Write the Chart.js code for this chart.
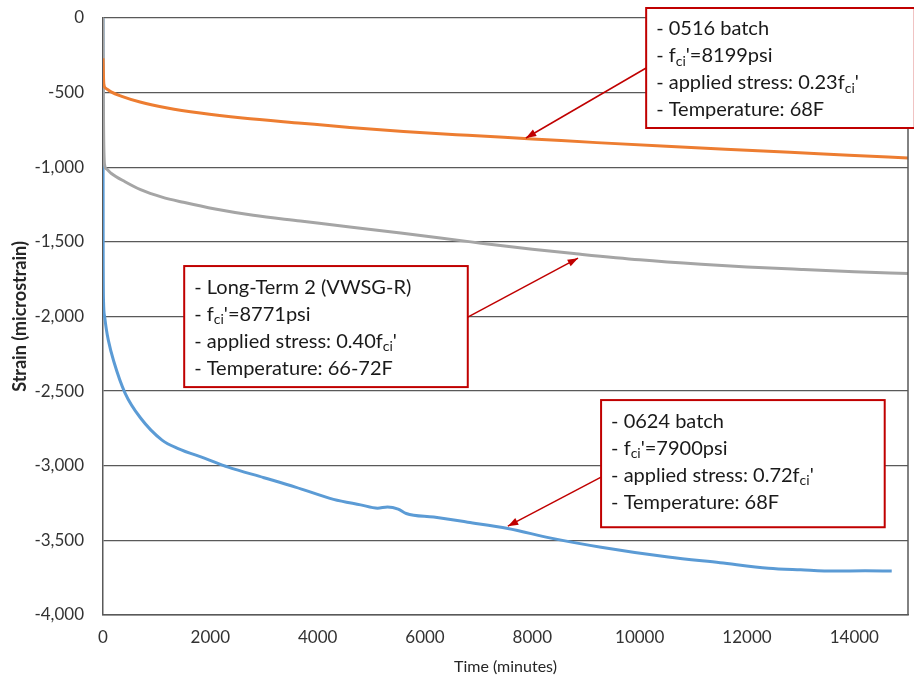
<!DOCTYPE html>
<html>
<head>
<meta charset="utf-8">
<script src="https://cdn.jsdelivr.net/npm/chart.js@4.4.1/dist/chart.umd.min.js"></script>
<style>
  html, body { margin: 0; padding: 0; background: #fff; }
  canvas { display: block; }
</style>
</head>
<body>
<canvas id="myChart" width="914" height="681"></canvas>
<script>
// time (minutes) and strain (microstrain)
const orangeTime = [0, 15, 50, 150, 350, 690, 1200, 1811, 2600, 3700, 4600, 5600, 6800, 8000, 9200, 10500, 11600, 12800, 13900, 15000];
const orangeStrain = [-270, -440, -470, -495, -525, -563, -603, -637, -670, -705, -733, -760, -786, -810, -835, -860, -880, -900, -920, -938];

const grayTime = [0, 10, 30, 60, 150, 411, 700, 1100, 1500, 2091, 2800, 3679, 4600, 5546, 6854, 8000, 8814, 10000, 11148, 12000, 13015, 14000, 15000];
const grayStrain = [0, -700, -985, -1010, -1040, -1097, -1150, -1200, -1235, -1280, -1322, -1360, -1400, -1440, -1500, -1550, -1580, -1620, -1650, -1668, -1685, -1700, -1712];

const blueTime = [0, 3, 10, 30, 60, 100, 200, 411, 700, 1100, 1400, 1900, 2334, 3000, 3585, 4295, 4800, 5117, 5300, 5500, 5650, 6162, 6797, 7544, 8347, 9281, 10532, 11500, 12400, 13000, 13632, 14200, 14697];
const blueStrain = [0, -1500, -1900, -2000, -2080, -2160, -2300, -2513, -2680, -2828, -2885, -2950, -3009, -3080, -3143, -3225, -3262, -3284, -3276, -3290, -3320, -3344, -3378, -3420, -3485, -3546, -3612, -3650, -3686, -3697, -3706, -3704, -3706];

const xTicks = [0, 2000, 4000, 6000, 8000, 10000, 12000, 14000];

// callout boxes, in data units: [left, right, top, bottom]
const notes = [
    {
        box: [10121, 15126, 67, -737],
        from: [10121, -335], to: [7880, -804],
        lines: ["- 0516 batch", "- f_{ci}'=8199psi", "- applied stress: 0.23f_{ci}'", "- Temperature: 68F"]
    },
    {
        box: [1513, 6797, -1662, -2473],
        from: [6797, -2004], to: [8851, -1609],
        lines: ["- Long-Term 2 (VWSG-R)", "- f_{ci}'=8771psi", "- applied stress: 0.40f_{ci}'", "- Temperature: 66-72F"]
    },
    {
        box: [9281, 14566, -2560, -3412],
        from: [9281, -3076], to: [7544, -3405],
        lines: ["- 0624 batch", "- f_{ci}'=7900psi", "- applied stress: 0.72f_{ci}'", "- Temperature: 68F"]
    }
];

const FONT = 'Lato, "Open Sans", sans-serif';
const RED = '#c00000';

function puntos(xs, ys) {
    return xs.map((x, i) => ({ x: x, y: ys[i] }));
}

function dibujarTexto(ctx, linea, x, y) {
    const partes = linea.split(/(_\{[^}]*\})/);
    partes.forEach(p => {
        if (!p) return;
        if (p.startsWith('_{')) {
            const t = p.slice(2, -1);
            ctx.font = '14px ' + FONT;
            ctx.fillText(t, x, y + 5);
            x += ctx.measureText(t).width;
        } else {
            ctx.font = '20px ' + FONT;
            ctx.fillText(p, x, y);
            x += ctx.measureText(p).width;
        }
    });
}

const calloutPlugin = {
    id: 'callouts',
    afterDraw(chart) {
        const ctx = chart.ctx;
        const xs = chart.scales.x;
        const ys = chart.scales.y;
        const area = chart.chartArea;

        // right border of the plot
        ctx.save();
        ctx.strokeStyle = '#595959';
        ctx.lineWidth = 1.5;
        ctx.beginPath();
        ctx.moveTo(area.right, area.top);
        ctx.lineTo(area.right, area.bottom);
        ctx.stroke();
        ctx.restore();

        notes.forEach(n => {
            const l = xs.getPixelForValue(n.box[0]);
            const r = xs.getPixelForValue(n.box[1]);
            const t = ys.getPixelForValue(n.box[2]);
            const b = ys.getPixelForValue(n.box[3]);
            const x1 = xs.getPixelForValue(n.from[0]);
            const y1 = ys.getPixelForValue(n.from[1]);
            const x2 = xs.getPixelForValue(n.to[0]);
            const y2 = ys.getPixelForValue(n.to[1]);

            ctx.save();
            // arrow
            ctx.strokeStyle = RED;
            ctx.fillStyle = RED;
            ctx.lineWidth = 1.5;
            ctx.beginPath();
            ctx.moveTo(x1, y1);
            ctx.lineTo(x2, y2);
            ctx.stroke();
            const ang = Math.atan2(y2 - y1, x2 - x1);
            ctx.beginPath();
            ctx.moveTo(x2, y2);
            ctx.lineTo(x2 - 11 * Math.cos(ang - 0.35), y2 - 11 * Math.sin(ang - 0.35));
            ctx.lineTo(x2 - 11 * Math.cos(ang + 0.35), y2 - 11 * Math.sin(ang + 0.35));
            ctx.closePath();
            ctx.fill();

            // box
            ctx.fillStyle = '#ffffff';
            ctx.fillRect(l, t, r - l, b - t);
            ctx.lineWidth = 2;
            ctx.strokeRect(l, t, r - l, b - t);

            ctx.fillStyle = '#1a1a1a';
            ctx.textBaseline = 'middle';
            ctx.textAlign = 'left';
            n.lines.forEach((linea, i) => {
                dibujarTexto(ctx, linea, l + 10, t + 21 + i * 27);
            });
            ctx.restore();
        });
    }
};

const ctx = document.getElementById('myChart').getContext('2d');

new Chart(ctx, {
    type: 'scatter',
    data: {
        datasets: [
            { label: 'orange', data: puntos(orangeTime, orangeStrain), borderColor: '#ed7d31' },
            { label: 'gray', data: puntos(grayTime, grayStrain), borderColor: '#a5a5a5' },
            { label: 'blue', data: puntos(blueTime, blueStrain), borderColor: '#5b9bd5' }
        ].map(d => Object.assign(d, {
            showLine: true,
            pointRadius: 0,
            borderWidth: 3,
            cubicInterpolationMode: 'monotone',
            fill: false
        }))
    },
    options: {
        responsive: false,
        animation: false,
        devicePixelRatio: 1,
        layout: { padding: { top: 18, right: 6, left: 0, bottom: 0 } },
        plugins: {
            legend: { display: false },
            tooltip: { enabled: false }
        },
        scales: {
            x: {
                type: 'linear',
                min: 0,
                max: 15000,
                afterFit: s => { s.height = 66; s.paddingLeft = 0; s.paddingRight = 0; },
                afterBuildTicks: s => { s.ticks = xTicks.map(v => ({ value: v })); },
                grid: { display: false, drawTicks: false },
                border: { display: true, color: '#595959', width: 1.5 },
                ticks: {
                    padding: 12,
                    color: '#333333',
                    font: { family: FONT, size: 17 },
                    maxRotation: 0,
                    callback: v => String(v)
                },
                title: {
                    display: true,
                    text: 'Time (minutes)',
                    color: '#262626',
                    font: { family: FONT, size: 16 },
                    padding: { top: 0, bottom: 5 }
                }
            },
            y: {
                min: -4000,
                max: 0,
                afterFit: s => { s.width = 103; s.paddingTop = 0; s.paddingBottom = 0; },
                grid: { color: '#595959', lineWidth: 1.3, drawTicks: false },
                border: { display: true, color: '#595959', width: 1.5 },
                ticks: {
                    stepSize: 500,
                    padding: 19,
                    color: '#333333',
                    font: { family: FONT, size: 17 },
                    callback: v => v.toLocaleString('en-US')
                },
                title: {
                    display: true,
                    text: 'Strain (microstrain)',
                    color: '#262626',
                    font: { family: FONT, size: 18, weight: 'bold' },
                    padding: { top: 9, bottom: 0 }
                }
            }
        }
    },
    plugins: [calloutPlugin]
});
</script>
</body>
</html>
